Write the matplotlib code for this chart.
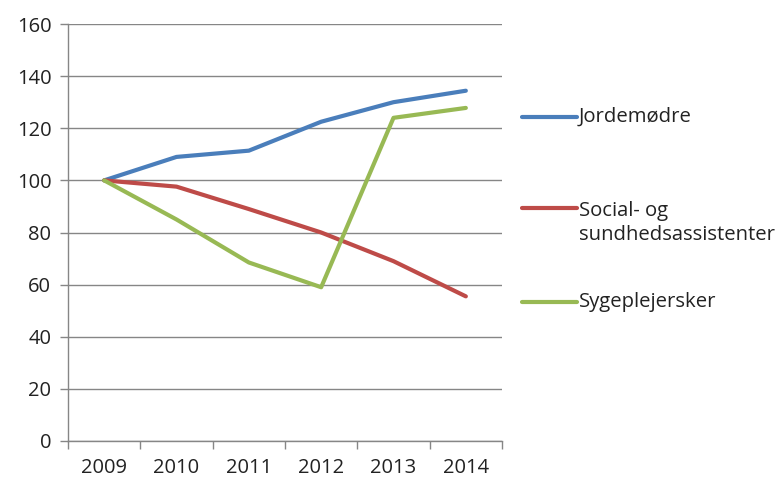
import matplotlib.pyplot as plt
from matplotlib.lines import Line2D

years = ["2009", "2010", "2011", "2012", "2013", "2014"]
jordemodre = [100, 109, 111.4, 122.5, 130, 134.4]
social = [100, 97.6, 89, 80, 69, 55.5]
sygeplejersker = [100, 85, 68.5, 59, 124, 127.8]

names = ["Jordemødre", "Social- og\nsundhedsassistenter", "Sygeplejersker"]
colors = ["#4A7EBB", "#BE4B48", "#98B954"]

plt.rcParams['font.family'] = ['Open Sans', 'DejaVu Sans']
grey = "#868686"

fig = plt.figure(figsize=(7.84, 4.83), dpi=100)
ax = fig.add_axes([68 / 784, 42 / 483, (502 - 68) / 784, (441 - 24) / 483])

x = list(range(len(years)))
for series, c in zip([jordemodre, social, sygeplejersker], colors):
    ax.plot(x, series, color=c, lw=3, solid_capstyle="round", solid_joinstyle="round")

ax.set_xlim(-0.5, len(years) - 0.5)
ax.set_ylim(0, 160)
ax.set_yticks(range(0, 161, 20))
ax.yaxis.grid(True, color=grey, lw=1)
ax.set_axisbelow(True)

ax.set_xticks(x)
ax.set_xticklabels(years)
ax.set_xticks([i - 0.5 for i in range(len(years) + 1)], minor=True)
ax.tick_params(axis="x", which="major", length=0, pad=12, labelsize=14.5, colors="#222222")
ax.tick_params(axis="x", which="minor", length=6, color=grey, width=1)
ax.tick_params(axis="y", length=6, color=grey, width=1, pad=6, labelsize=14.5, labelcolor="#222222")

for s in ["top", "right"]:
    ax.spines[s].set_visible(False)
for s in ["left", "bottom"]:
    ax.spines[s].set_color(grey)
    ax.spines[s].set_linewidth(1)

# legend, drawn by hand to match the spacing
leg_y = [117, 208, 302]
text_y = [117, 223, 302]
for name, c, yy, ty in zip(names, colors, leg_y, text_y):
    fy = 1 - yy / 483
    fig.add_artist(Line2D([522 / 784, 577 / 784], [fy, fy], color=c, lw=3,
                          solid_capstyle="round", transform=fig.transFigure))
    fig.text(579 / 784, 1 - ty / 483, name, fontsize=14.6, color="#222222",
             va="center", linespacing=1.25)

fig.savefig("out.png", dpi=100)
